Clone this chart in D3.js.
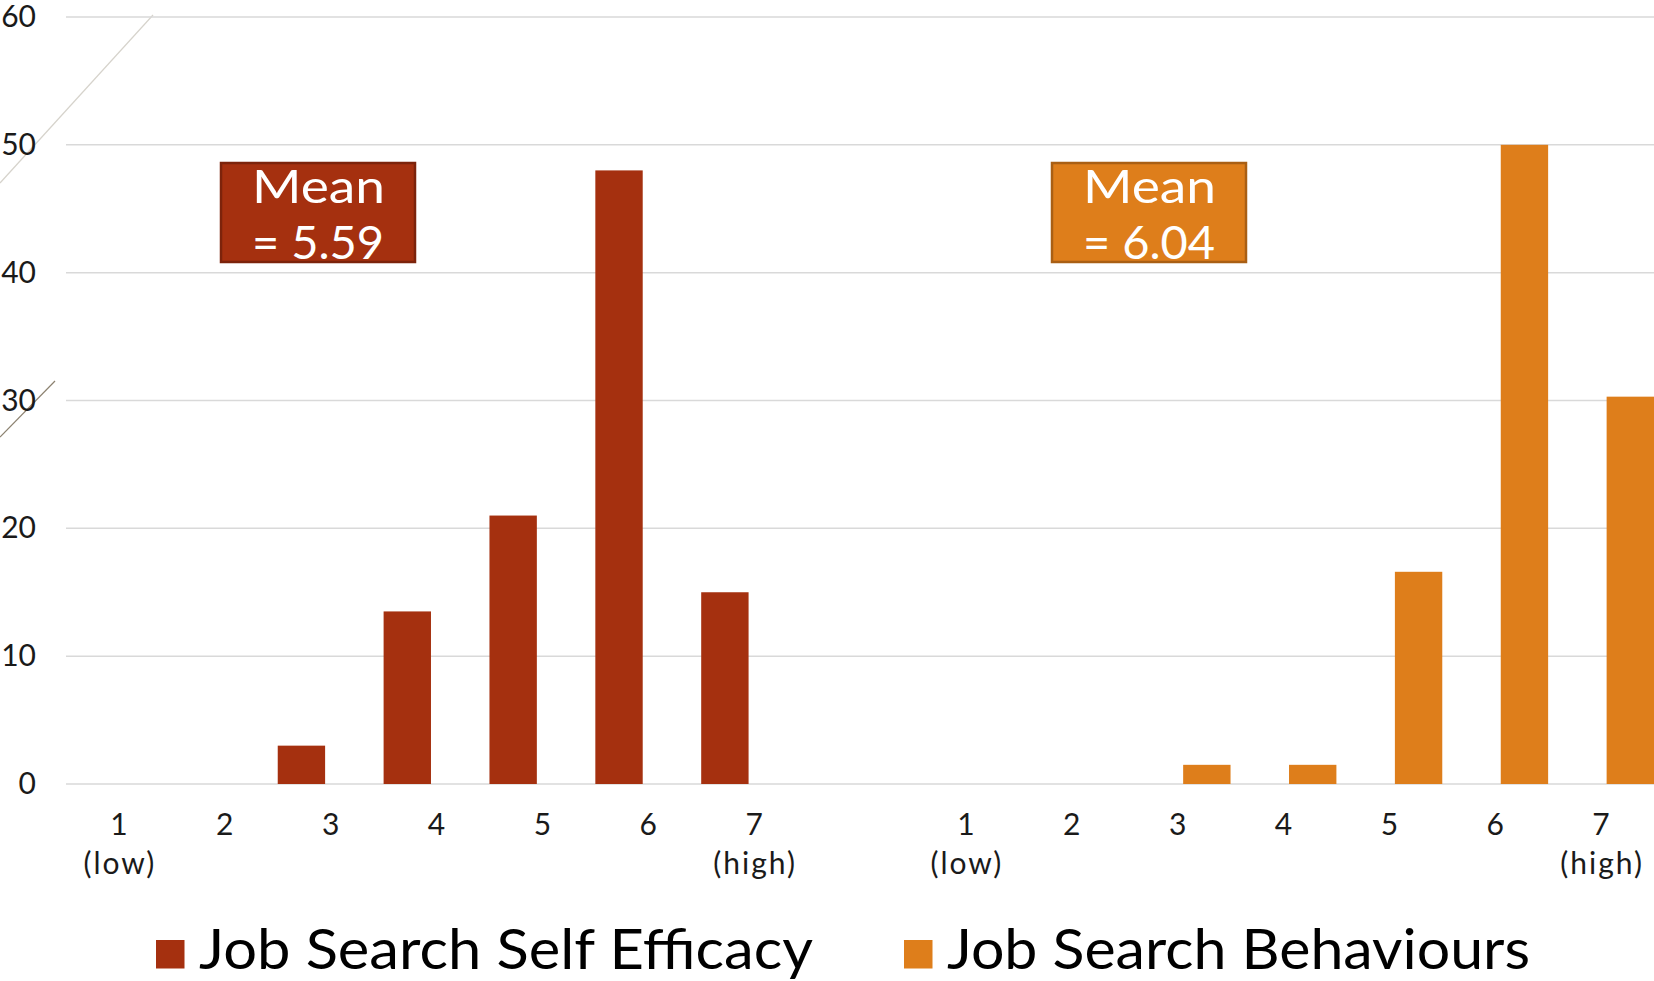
<!DOCTYPE html>
<html>
<head>
<meta charset="utf-8">
<script src="https://cdn.jsdelivr.net/npm/d3@7"></script>
<style>
  html, body { margin: 0; padding: 0; background: #ffffff; }
  svg { display: block; font-family: Lato, "Open Sans", sans-serif; }
</style>
</head>
<body>
<svg id="chart" width="1654" height="981"></svg>
<script>
// Rating scale (1 = low, 7 = high); "|" separates the two label lines
const scoreLabels = ["1|(low)", "2", "3", "4", "5", "6", "7|(high)"];

// Share of respondents (%) at each rating
const efficacyPct   = [0, 0, 3, 13.5, 21, 48, 15];
const behavioursPct = [0, 0, 1.5, 1.5, 16.6, 50, 30.3];

const seriesNames   = ["Job Search Self Efficacy", "Job Search Behaviours"];
const seriesColors  = ["#a5300f", "#de7e1b"];
const seriesBorders = ["#7c230b", "#a95f14"];
const meanScores    = [5.59, 6.04];

const yTicks = [0, 10, 20, 30, 40, 50, 60];

// ---- layout ----
const W = 1654, H = 981;
const plot = { left: 66, right: 1654, top: 17, bottom: 784 };
const meanBoxes = [
  { x: 221, y: 163, w: 194, h: 99 },
  { x: 1052, y: 163, w: 194, h: 99 }
];
const legendX = [156, 904];
const legendTextWidth = [614, 583];

// Fifteen category slots: efficacy ratings, an empty spacer, behaviour ratings
const slots = [];
scoreLabels.forEach((lab, i) => slots.push({ key: "e" + i, label: lab, values: [efficacyPct[i], 0] }));
slots.push({ key: "gap", label: "", values: [0, 0] });
scoreLabels.forEach((lab, i) => slots.push({ key: "b" + i, label: lab, values: [0, behavioursPct[i]] }));

const svg = d3.select("#chart");

const x = d3.scaleBand()
  .domain(slots.map(d => d.key))
  .range([plot.left, plot.right])
  .paddingInner(0).paddingOuter(0);

const xSeries = d3.scaleBand()
  .domain([0, 1])
  .range([0, x.bandwidth()])
  .paddingInner(0.19).paddingOuter(0);

const y = d3.scaleLinear().domain([0, 60]).range([plot.bottom, plot.top]);

// Decorative slide strokes at the left edge
const deco = svg.append("g").attr("fill", "none");
deco.append("line").attr("x1", 153).attr("y1", 15).attr("x2", 0).attr("y2", 183)
  .attr("stroke", "#d6d3cc").attr("stroke-width", 1.2);
deco.append("line").attr("x1", 55).attr("y1", 381).attr("x2", 0).attr("y2", 437)
  .attr("stroke", "#8c8270").attr("stroke-width", 1.2);

// Horizontal gridlines
svg.append("g").selectAll("line")
  .data(yTicks)
  .join("line")
  .attr("x1", plot.left).attr("x2", plot.right)
  .attr("y1", d => y(d)).attr("y2", d => y(d))
  .attr("stroke", "#d9d9d9").attr("stroke-width", 1.5);

// Y axis labels
const yAxis = svg.append("g")
  .attr("transform", "translate(36,0)")
  .call(d3.axisLeft(y).tickValues(yTicks).tickSize(0).tickPadding(0).tickFormat(d3.format("d")));
yAxis.select(".domain").remove();
yAxis.selectAll("text")
  .attr("font-family", "Lato, 'Open Sans', sans-serif")
  .attr("font-size", 30).attr("fill", "#1a1a1a");

// X axis labels (two-line where needed)
const labelOf = new Map(slots.map(d => [d.key, d.label]));
const xAxis = svg.append("g")
  .attr("transform", `translate(0,${plot.bottom + 51})`)
  .call(d3.axisBottom(x).tickSize(0).tickPadding(0).tickFormat(k => labelOf.get(k)));
xAxis.select(".domain").remove();
xAxis.selectAll("text")
  .attr("font-family", "Lato, 'Open Sans', sans-serif")
  .attr("font-size", 30).attr("fill", "#1a1a1a")
  .attr("y", 0).attr("dy", null)
  .each(function (k) {
    const t = d3.select(this);
    const lines = labelOf.get(k).split("|");
    t.text(null);
    lines.forEach((ln, i) => {
      t.append("tspan")
        .attr("x", i === 0 ? 0 : 1)
        .attr("dy", i === 0 ? 0 : 39)
        .attr("letter-spacing", i === 0 ? null : 2)
        .text(ln);
    });
  });

// Bars
const barData = [];
slots.forEach(s => s.values.forEach((v, si) => { if (v > 0) barData.push({ key: s.key, si, v }); }));
svg.append("g").selectAll("rect")
  .data(barData)
  .join("rect")
  .attr("x", d => x(d.key) + xSeries(d.si))
  .attr("width", xSeries.bandwidth())
  .attr("y", d => y(d.v))
  .attr("height", d => y(0) - y(d.v))
  .attr("fill", d => seriesColors[d.si]);

// Mean callouts
const mean = svg.append("g").selectAll("g")
  .data(meanScores)
  .join("g");
mean.append("rect")
  .attr("x", (d, i) => meanBoxes[i].x)
  .attr("y", (d, i) => meanBoxes[i].y)
  .attr("width", (d, i) => meanBoxes[i].w)
  .attr("height", (d, i) => meanBoxes[i].h)
  .attr("fill", (d, i) => seriesColors[i])
  .attr("stroke", (d, i) => seriesBorders[i])
  .attr("stroke-width", 2.5);
mean.append("text")
  .attr("x", (d, i) => meanBoxes[i].x + meanBoxes[i].w / 2 - 66)
  .attr("y", (d, i) => meanBoxes[i].y + 40)
  .attr("textLength", 133).attr("lengthAdjust", "spacingAndGlyphs")
  .attr("font-size", 47).attr("fill", "#ffffff")
  .text("Mean");
mean.append("text")
  .attr("x", (d, i) => meanBoxes[i].x + meanBoxes[i].w / 2)
  .attr("y", (d, i) => meanBoxes[i].y + 96)
  .attr("text-anchor", "middle")
  .attr("font-size", 47).attr("fill", "#ffffff")
  .text(d => "= " + d3.format(".2f")(d));

// Legend
const legend = svg.append("g").selectAll("g")
  .data(seriesNames)
  .join("g")
  .attr("transform", (d, i) => `translate(${legendX[i]},940)`);
legend.append("rect")
  .attr("width", 28.5).attr("height", 28.5)
  .attr("fill", (d, i) => seriesColors[i]);
legend.append("text")
  .attr("x", 43).attr("y", 29)
  .attr("font-size", 56).attr("fill", "#000000")
  .attr("textLength", (d, i) => legendTextWidth[i])
  .attr("lengthAdjust", "spacingAndGlyphs")
  .text(d => d);
</script>
</body>
</html>
